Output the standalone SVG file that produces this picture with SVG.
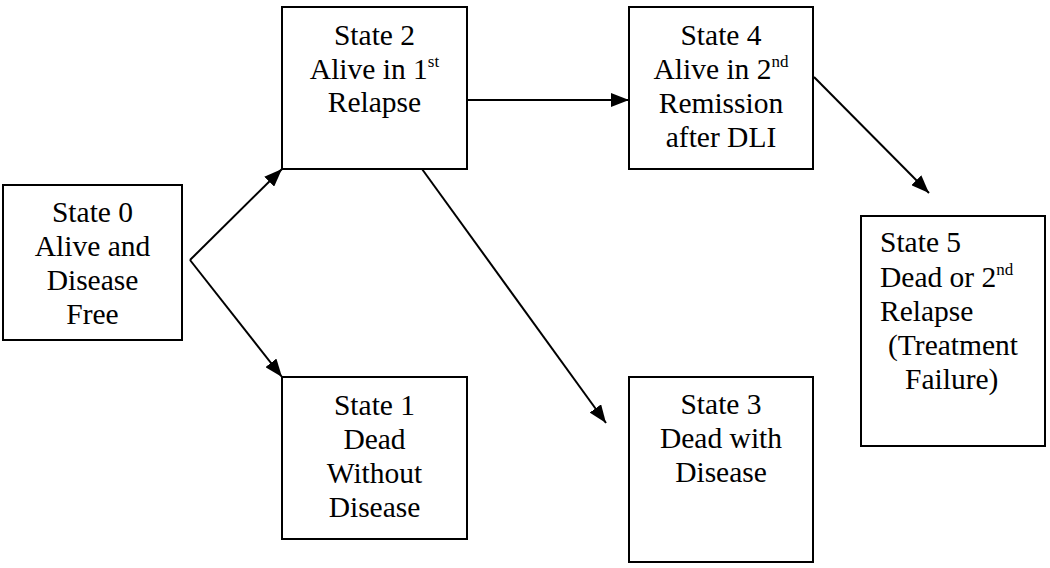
<svg xmlns="http://www.w3.org/2000/svg" width="1050" height="568" viewBox="0 0 1050 568">
<defs>
<marker id="ah" markerUnits="userSpaceOnUse" markerWidth="18" markerHeight="14" viewBox="0 0 18 14" refX="18" refY="7" orient="auto">
<path d="M0,0 L18,7 L0,14 Z" fill="#000"/>
</marker>
</defs>
<rect width="1050" height="568" fill="#fff"/>
<g id="connectors" stroke="#000" stroke-width="2" fill="none">
<line x1="190" y1="260" x2="282" y2="169" marker-end="url(#ah)"/>
<line x1="190" y1="260" x2="282" y2="377" marker-end="url(#ah)"/>
<line x1="467" y1="100" x2="629" y2="100" marker-end="url(#ah)"/>
<line x1="422" y1="169" x2="606" y2="423" marker-end="url(#ah)"/>
<line x1="814" y1="77" x2="929" y2="193" marker-end="url(#ah)"/>
</g>
<g id="state0">
<rect x="3" y="185" width="179" height="155" fill="#fff" stroke="#000" stroke-width="2"/>
<text style="font-family:'Liberation Serif',serif;font-size:29.5px" text-anchor="middle" x="92.5" y="222">State 0</text>
<text style="font-family:'Liberation Serif',serif;font-size:29.5px" text-anchor="middle" x="92.5" y="256">Alive and</text>
<text style="font-family:'Liberation Serif',serif;font-size:29.5px" text-anchor="middle" x="92.5" y="290">Disease</text>
<text style="font-family:'Liberation Serif',serif;font-size:29.5px" text-anchor="middle" x="92.5" y="324">Free</text>
</g>
<g id="state1">
<rect x="282" y="377" width="185" height="162" fill="#fff" stroke="#000" stroke-width="2"/>
<text style="font-family:'Liberation Serif',serif;font-size:29.5px" text-anchor="middle" x="374.5" y="415">State 1</text>
<text style="font-family:'Liberation Serif',serif;font-size:29.5px" text-anchor="middle" x="374.5" y="449">Dead</text>
<text style="font-family:'Liberation Serif',serif;font-size:29.5px" text-anchor="middle" x="374.5" y="483">Without</text>
<text style="font-family:'Liberation Serif',serif;font-size:29.5px" text-anchor="middle" x="374.5" y="517">Disease</text>
</g>
<g id="state2">
<rect x="282" y="7" width="185" height="162" fill="#fff" stroke="#000" stroke-width="2"/>
<text style="font-family:'Liberation Serif',serif;font-size:29.5px" text-anchor="middle" x="374.5" y="45">State 2</text>
<text style="font-family:'Liberation Serif',serif;font-size:29.5px" text-anchor="middle" x="374.5" y="79">Alive in 1<tspan style="font-size:17px" dy="-12">st</tspan></text>
<text style="font-family:'Liberation Serif',serif;font-size:29.5px" text-anchor="middle" x="374.5" y="112">Relapse</text>
</g>
<g id="state3">
<rect x="629" y="377" width="184" height="185" fill="#fff" stroke="#000" stroke-width="2"/>
<text style="font-family:'Liberation Serif',serif;font-size:29.5px" text-anchor="middle" x="721" y="414">State 3</text>
<text style="font-family:'Liberation Serif',serif;font-size:29.5px" text-anchor="middle" x="721" y="448">Dead with</text>
<text style="font-family:'Liberation Serif',serif;font-size:29.5px" text-anchor="middle" x="721" y="482">Disease</text>
</g>
<g id="state4">
<rect x="629" y="7" width="184" height="162" fill="#fff" stroke="#000" stroke-width="2"/>
<text style="font-family:'Liberation Serif',serif;font-size:29.5px" text-anchor="middle" x="721" y="45">State 4</text>
<text style="font-family:'Liberation Serif',serif;font-size:29.5px" text-anchor="middle" x="721" y="79">Alive in 2<tspan style="font-size:17px" dy="-12">nd</tspan></text>
<text style="font-family:'Liberation Serif',serif;font-size:29.5px" text-anchor="middle" x="721" y="113">Remission</text>
<text style="font-family:'Liberation Serif',serif;font-size:29.5px" text-anchor="middle" x="721" y="147">after DLI</text>
</g>
<g id="state5">
<rect x="861" y="216" width="184" height="230" fill="#fff" stroke="#000" stroke-width="2"/>
<text style="font-family:'Liberation Serif',serif;font-size:29.5px" x="880" y="252">State 5</text>
<text style="font-family:'Liberation Serif',serif;font-size:29.5px" x="880" y="287">Dead or 2<tspan style="font-size:17px" dy="-12">nd</tspan></text>
<text style="font-family:'Liberation Serif',serif;font-size:29.5px" x="880" y="321">Relapse</text>
<text style="font-family:'Liberation Serif',serif;font-size:29.5px" x="888" y="355">(Treatment</text>
<text style="font-family:'Liberation Serif',serif;font-size:29.5px" x="905" y="389">Failure)</text>
</g>
</svg>
